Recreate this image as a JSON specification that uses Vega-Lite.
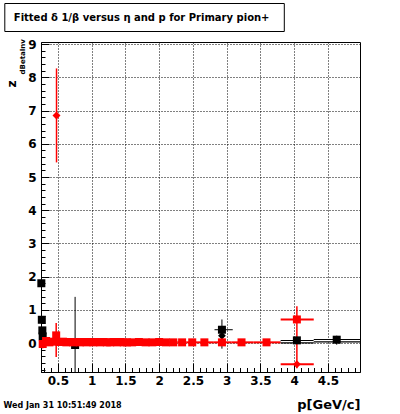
{
  "$schema": "https://vega.github.io/schema/vega-lite/v6.json",
  "width": 319,
  "height": 330,
  "autosize": "none",
  "padding": {"left": 41, "top": 42, "right": 40, "bottom": 42},
  "background": "white",
  "config": {"view": {"stroke": "black", "strokeWidth": 1}, "font": "DejaVu Sans"},
  "data": {"values": [
    {"g": "k1", "m": "sq", "p": 0.255, "z": 1.8, "lo": 1.8, "hi": 1.8, "pl": 0.255, "ph": 0.255},
    {"g": "k1", "m": "sq", "p": 0.262, "z": 0.7, "lo": 0.7, "hi": 0.7, "pl": 0.262, "ph": 0.262},
    {"g": "k1", "m": "sq", "p": 0.27, "z": 0.38, "lo": 0.38, "hi": 0.38, "pl": 0.27, "ph": 0.27},
    {"g": "k1", "m": "sq", "p": 0.275, "z": 0.2, "lo": 0.2, "hi": 0.2, "pl": 0.275, "ph": 0.275},
    {"g": "k1", "m": "sq", "p": 0.755, "z": -0.06, "lo": -1.6, "hi": 1.39, "pl": 0.73, "ph": 0.78},
    {"g": "k1", "m": "sq", "p": 2.93, "z": 0.4, "lo": 0.1, "hi": 0.71, "pl": 2.82, "ph": 3.09},
    {"g": "k1", "m": "dm", "p": 2.93, "z": 0.22, "lo": -0.17, "hi": 0.4, "pl": 2.93, "ph": 2.93},
    {"g": "r", "m": "sq", "p": 0.275, "z": -0.03, "lo": -0.16, "hi": 0.1, "pl": 0.25, "ph": 0.3},
    {"g": "r", "m": "sq", "p": 0.325, "z": 0.06, "lo": -0.04, "hi": 0.16, "pl": 0.3, "ph": 0.35},
    {"g": "r", "m": "sq", "p": 0.375, "z": 0.02, "lo": -0.06, "hi": 0.1, "pl": 0.35, "ph": 0.4},
    {"g": "r", "m": "sq", "p": 0.425, "z": 0.04, "lo": -0.03, "hi": 0.11, "pl": 0.4, "ph": 0.45},
    {"g": "r", "m": "sq", "p": 0.475, "z": 0.23, "lo": -0.42, "hi": 0.6, "pl": 0.45, "ph": 0.5},
    {"g": "r", "m": "sq", "p": 0.525, "z": 0.03, "lo": -0.03, "hi": 0.09, "pl": 0.5, "ph": 0.55},
    {"g": "r", "m": "sq", "p": 0.575, "z": 0.04, "lo": -0.02, "hi": 0.1, "pl": 0.55, "ph": 0.6},
    {"g": "r", "m": "sq", "p": 0.625, "z": 0.02, "lo": -0.03, "hi": 0.07, "pl": 0.6, "ph": 0.65},
    {"g": "r", "m": "sq", "p": 0.675, "z": 0.03, "lo": -0.02, "hi": 0.08, "pl": 0.65, "ph": 0.7},
    {"g": "r", "m": "sq", "p": 0.725, "z": 0.02, "lo": -0.03, "hi": 0.07, "pl": 0.7, "ph": 0.75},
    {"g": "r", "m": "sq", "p": 0.775, "z": 0.03, "lo": -0.02, "hi": 0.08, "pl": 0.75, "ph": 0.8},
    {"g": "r", "m": "sq", "p": 0.825, "z": 0.02, "lo": -0.03, "hi": 0.07, "pl": 0.8, "ph": 0.85},
    {"g": "r", "m": "sq", "p": 0.875, "z": 0.03, "lo": -0.02, "hi": 0.08, "pl": 0.85, "ph": 0.9},
    {"g": "r", "m": "sq", "p": 0.925, "z": 0.02, "lo": -0.03, "hi": 0.07, "pl": 0.9, "ph": 0.95},
    {"g": "r", "m": "sq", "p": 0.975, "z": 0.03, "lo": -0.02, "hi": 0.08, "pl": 0.95, "ph": 1.0},
    {"g": "r", "m": "sq", "p": 1.025, "z": 0.02, "lo": -0.03, "hi": 0.07, "pl": 1.0, "ph": 1.05},
    {"g": "r", "m": "sq", "p": 1.075, "z": 0.03, "lo": -0.02, "hi": 0.08, "pl": 1.05, "ph": 1.1},
    {"g": "r", "m": "sq", "p": 1.125, "z": 0.02, "lo": -0.03, "hi": 0.07, "pl": 1.1, "ph": 1.15},
    {"g": "r", "m": "sq", "p": 1.175, "z": 0.03, "lo": -0.02, "hi": 0.08, "pl": 1.15, "ph": 1.2},
    {"g": "r", "m": "sq", "p": 1.225, "z": 0.02, "lo": -0.03, "hi": 0.07, "pl": 1.2, "ph": 1.25},
    {"g": "r", "m": "sq", "p": 1.275, "z": 0.02, "lo": -0.03, "hi": 0.07, "pl": 1.25, "ph": 1.3},
    {"g": "r", "m": "sq", "p": 1.325, "z": 0.03, "lo": -0.02, "hi": 0.08, "pl": 1.3, "ph": 1.35},
    {"g": "r", "m": "sq", "p": 1.375, "z": 0.02, "lo": -0.03, "hi": 0.07, "pl": 1.35, "ph": 1.4},
    {"g": "r", "m": "sq", "p": 1.425, "z": 0.03, "lo": -0.02, "hi": 0.08, "pl": 1.4, "ph": 1.45},
    {"g": "r", "m": "sq", "p": 1.475, "z": 0.02, "lo": -0.03, "hi": 0.07, "pl": 1.45, "ph": 1.5},
    {"g": "r", "m": "sq", "p": 1.525, "z": 0.02, "lo": -0.03, "hi": 0.07, "pl": 1.5, "ph": 1.55},
    {"g": "r", "m": "sq", "p": 1.6, "z": 0.02, "lo": -0.02, "hi": 0.06, "pl": 1.55, "ph": 1.65},
    {"g": "r", "m": "sq", "p": 1.7, "z": 0.03, "lo": -0.01, "hi": 0.07, "pl": 1.65, "ph": 1.75},
    {"g": "r", "m": "sq", "p": 1.8, "z": 0.02, "lo": -0.02, "hi": 0.06, "pl": 1.75, "ph": 1.85},
    {"g": "r", "m": "sq", "p": 1.9, "z": 0.02, "lo": -0.02, "hi": 0.06, "pl": 1.85, "ph": 1.95},
    {"g": "r", "m": "sq", "p": 2.0, "z": 0.03, "lo": -0.01, "hi": 0.07, "pl": 1.95, "ph": 2.05},
    {"g": "r", "m": "sq", "p": 2.1, "z": 0.02, "lo": -0.02, "hi": 0.06, "pl": 2.05, "ph": 2.15},
    {"g": "r", "m": "sq", "p": 2.21, "z": 0.02, "lo": -0.02, "hi": 0.06, "pl": 2.15, "ph": 2.275},
    {"g": "r", "m": "sq", "p": 2.34, "z": 0.02, "lo": -0.02, "hi": 0.06, "pl": 2.275, "ph": 2.41},
    {"g": "r", "m": "sq", "p": 2.49, "z": 0.02, "lo": -0.02, "hi": 0.06, "pl": 2.41, "ph": 2.575},
    {"g": "r", "m": "sq", "p": 2.67, "z": 0.02, "lo": -0.02, "hi": 0.06, "pl": 2.575, "ph": 2.8},
    {"g": "r", "m": "sq", "p": 2.93, "z": 0.02, "lo": -0.03, "hi": 0.07, "pl": 2.8, "ph": 3.07},
    {"g": "r", "m": "sq", "p": 3.22, "z": 0.02, "lo": -0.03, "hi": 0.07, "pl": 3.07, "ph": 3.4},
    {"g": "r", "m": "sq", "p": 3.59, "z": 0.02, "lo": -0.03, "hi": 0.07, "pl": 3.4, "ph": 3.8},
    {"g": "r", "m": "sq", "p": 4.04, "z": 0.71, "lo": -0.3, "hi": 1.11, "pl": 3.8, "ph": 4.29},
    {"g": "r", "m": "dm", "p": 0.48, "z": 6.85, "lo": 5.44, "hi": 8.27, "pl": 0.48, "ph": 0.48},
    {"g": "r", "m": "dm", "p": 4.04, "z": -0.64, "lo": -0.76, "hi": -0.3, "pl": 3.8, "ph": 4.29},
    {"g": "k2", "m": "box", "p": 4.04, "z": 0.04, "lo": 0.04, "hi": 0.04, "pl": 3.8, "ph": 4.29},
    {"g": "k2", "m": "box", "p": 4.63, "z": 0.07, "lo": 0.07, "hi": 0.07, "pl": 4.29, "ph": 4.975},
    {"g": "k2", "m": "sq", "p": 4.04, "z": 0.08, "lo": 0.08, "hi": 0.08, "pl": 4.04, "ph": 4.04},
    {"g": "k2", "m": "sq", "p": 4.63, "z": 0.1, "lo": -0.05, "hi": 0.22, "pl": 4.63, "ph": 4.63}
  ]},
  "layer": [
    {
      "transform": [{"filter": "datum.g == 'k1'"}],
      "mark": {"type": "rule", "color": "black", "strokeWidth": 1, "clip": true},
      "encoding": {
        "x": {"field": "pl", "type": "quantitative", "scale": {"domain": [0.25, 4.975], "nice": false, "zero": false},
          "axis": {
            "values": [0.3,0.4,0.5,0.6,0.7,0.8,0.9,1.0,1.1,1.2,1.3,1.4,1.5,1.6,1.7,1.8,1.9,2.0,2.1,2.2,2.3,2.4,2.5,2.6,2.7,2.8,2.9,3.0,3.1,3.2,3.3,3.4,3.5,3.6,3.7,3.8,3.9,4.0,4.1,4.2,4.3,4.4,4.5,4.6,4.7,4.8,4.9],
            "format": "~g",
            "labelExpr": "abs(datum.value*2-round(datum.value*2))<0.001 ? datum.label : ''",
            "labelFont": "DejaVu Sans", "labelFontWeight": "bold", "labelFontSize": 12, "labelColor": "black",
            "labelPadding": 12, "labelOverlap": false, "labelFlush": false, "labelBaseline": "top",
            "ticks": true, "tickColor": "black", "tickWidth": 1,
            "tickSize": {"condition": {"test": "abs(datum.value*2-round(datum.value*2))<0.001", "value": -9}, "value": -4.5},
            "grid": true, "gridColor": "black", "gridDash": [1, 2], "gridWidth": 1,
            "gridOpacity": {"condition": {"test": "abs(datum.value*2-round(datum.value*2))<0.001", "value": 1}, "value": 0},
            "domain": true, "domainColor": "black", "domainWidth": 1,
            "title": "p[GeV/c]", "titleFont": "DejaVu Sans", "titleFontWeight": "bold", "titleFontSize": 13, "titleColor": "black",
            "titleX": 319, "titleY": 36, "titleAlign": "right", "titleAnchor": "end", "titleBaseline": "alphabetic"
          }},
        "x2": {"field": "ph"},
        "y": {"field": "z", "type": "quantitative", "scale": {"domain": [-0.873, 9.066], "nice": false, "zero": false},
          "axis": {
            "values": [-0.8,-0.6,-0.4,-0.2,0,0.2,0.4,0.6,0.8,1,1.2,1.4,1.6,1.8,2,2.2,2.4,2.6,2.8,3,3.2,3.4,3.6,3.8,4,4.2,4.4,4.6,4.8,5,5.2,5.4,5.6,5.8,6,6.2,6.4,6.6,6.8,7,7.2,7.4,7.6,7.8,8,8.2,8.4,8.6,8.8,9],
            "format": "~g",
            "labelExpr": "abs(datum.value-round(datum.value))<0.001 ? datum.label : ''",
            "labelFont": "DejaVu Sans", "labelFontWeight": "bold", "labelFontSize": 12, "labelColor": "black",
            "labelPadding": 13, "labelOverlap": false, "labelFlush": false,
            "ticks": true, "tickColor": "black", "tickWidth": 1,
            "tickSize": {"condition": {"test": "abs(datum.value-round(datum.value))<0.001", "value": -8}, "value": -4},
            "grid": true, "gridColor": "black", "gridDash": [1, 2], "gridWidth": 1,
            "gridOpacity": {"condition": {"test": "abs(datum.value-round(datum.value))<0.001", "value": 1}, "value": 0},
            "domain": true, "domainColor": "black", "domainWidth": 1,
            "title": "z", "titleFont": "DejaVu Sans", "titleFontWeight": "bold", "titleFontSize": 12, "titleColor": "black",
            "titleX": -29.5, "titleY": 41.5, "titleAngle": 270, "titleAlign": "center", "titleBaseline": "middle"
          }}
      }
    },
    {
      "transform": [{"filter": "datum.g == 'k1'"}],
      "mark": {"type": "rule", "color": "black", "strokeWidth": 1, "clip": true},
      "encoding": {
        "x": {"field": "p", "type": "quantitative", "scale": {"domain": [0.25, 4.975], "nice": false, "zero": false}, "axis": null},
        "y": {"field": "lo", "type": "quantitative", "scale": {"domain": [-0.873, 9.066], "nice": false, "zero": false}, "axis": null},
        "y2": {"field": "hi"}
      }
    },
    {
      "transform": [{"filter": "datum.g == 'k1' && datum.m == 'sq'"}],
      "mark": {"type": "point", "shape": "square", "filled": true, "size": 64, "color": "black", "opacity": 1},
      "encoding": {
        "x": {"field": "p", "type": "quantitative", "scale": {"domain": [0.25, 4.975], "nice": false, "zero": false}, "axis": null},
        "y": {"field": "z", "type": "quantitative", "scale": {"domain": [-0.873, 9.066], "nice": false, "zero": false}, "axis": null}
      }
    },
    {
      "transform": [{"filter": "datum.g == 'k1' && datum.m == 'dm'"}],
      "mark": {"type": "point", "shape": "diamond", "filled": true, "size": 60, "color": "black", "opacity": 1},
      "encoding": {
        "x": {"field": "p", "type": "quantitative", "scale": {"domain": [0.25, 4.975], "nice": false, "zero": false}, "axis": null},
        "y": {"field": "z", "type": "quantitative", "scale": {"domain": [-0.873, 9.066], "nice": false, "zero": false}, "axis": null}
      }
    },
    {
      "transform": [{"filter": "datum.g == 'r'"}],
      "mark": {"type": "rule", "color": "#ff0000", "strokeWidth": 2, "clip": true},
      "encoding": {
        "x": {"field": "pl", "type": "quantitative", "scale": {"domain": [0.25, 4.975], "nice": false, "zero": false}, "axis": null},
        "x2": {"field": "ph"},
        "y": {"field": "z", "type": "quantitative", "scale": {"domain": [-0.873, 9.066], "nice": false, "zero": false}, "axis": null}
      }
    },
    {
      "transform": [{"filter": "datum.g == 'r'"}],
      "mark": {"type": "rule", "color": "#ff0000", "strokeWidth": 1.5, "clip": true},
      "encoding": {
        "x": {"field": "p", "type": "quantitative", "scale": {"domain": [0.25, 4.975], "nice": false, "zero": false}, "axis": null},
        "y": {"field": "lo", "type": "quantitative", "scale": {"domain": [-0.873, 9.066], "nice": false, "zero": false}, "axis": null},
        "y2": {"field": "hi"}
      }
    },
    {
      "transform": [{"filter": "datum.g == 'r' && datum.m == 'sq'"}],
      "mark": {"type": "point", "shape": "square", "filled": true, "size": 64, "color": "#ff0000", "opacity": 1},
      "encoding": {
        "x": {"field": "p", "type": "quantitative", "scale": {"domain": [0.25, 4.975], "nice": false, "zero": false}, "axis": null},
        "y": {"field": "z", "type": "quantitative", "scale": {"domain": [-0.873, 9.066], "nice": false, "zero": false}, "axis": null}
      }
    },
    {
      "transform": [{"filter": "datum.g == 'r' && datum.m == 'dm'"}],
      "mark": {"type": "point", "shape": "diamond", "filled": true, "size": 64, "color": "#ff0000", "opacity": 1},
      "encoding": {
        "x": {"field": "p", "type": "quantitative", "scale": {"domain": [0.25, 4.975], "nice": false, "zero": false}, "axis": null},
        "y": {"field": "z", "type": "quantitative", "scale": {"domain": [-0.873, 9.066], "nice": false, "zero": false}, "axis": null}
      }
    },
    {
      "transform": [{"filter": "datum.g == 'k2' && datum.m == 'box'"}],
      "mark": {"type": "rule", "color": "black", "strokeWidth": 3.5, "clip": true},
      "encoding": {
        "x": {"field": "pl", "type": "quantitative", "scale": {"domain": [0.25, 4.975], "nice": false, "zero": false}, "axis": null},
        "x2": {"field": "ph"},
        "y": {"field": "z", "type": "quantitative", "scale": {"domain": [-0.873, 9.066], "nice": false, "zero": false}, "axis": null}
      }
    },
    {
      "transform": [{"filter": "datum.g == 'k2' && datum.m == 'box'"}],
      "mark": {"type": "rule", "color": "white", "strokeWidth": 1.2, "clip": true},
      "encoding": {
        "x": {"field": "pl", "type": "quantitative", "scale": {"domain": [0.25, 4.975], "nice": false, "zero": false}, "axis": null},
        "x2": {"field": "ph"},
        "y": {"field": "z", "type": "quantitative", "scale": {"domain": [-0.873, 9.066], "nice": false, "zero": false}, "axis": null}
      }
    },
    {
      "transform": [{"filter": "datum.g == 'k2' && datum.m == 'sq'"}],
      "mark": {"type": "rule", "color": "black", "strokeWidth": 1, "clip": true},
      "encoding": {
        "x": {"field": "p", "type": "quantitative", "scale": {"domain": [0.25, 4.975], "nice": false, "zero": false}, "axis": null},
        "y": {"field": "lo", "type": "quantitative", "scale": {"domain": [-0.873, 9.066], "nice": false, "zero": false}, "axis": null},
        "y2": {"field": "hi"}
      }
    },
    {
      "transform": [{"filter": "datum.g == 'k2' && datum.m == 'sq'"}],
      "mark": {"type": "point", "shape": "square", "filled": true, "size": 64, "color": "black", "opacity": 1},
      "encoding": {
        "x": {"field": "p", "type": "quantitative", "scale": {"domain": [0.25, 4.975], "nice": false, "zero": false}, "axis": null},
        "y": {"field": "z", "type": "quantitative", "scale": {"domain": [-0.873, 9.066], "nice": false, "zero": false}, "axis": null}
      }
    },
    {
      "mark": {"type": "point", "opacity": 0},
      "encoding": {
        "x": {"field": "p", "type": "quantitative", "scale": {"domain": [0.25, 4.975], "nice": false, "zero": false},
          "axis": {"orient": "top", "domain": false, "ticks": false, "labels": false, "grid": false,
            "title": "Wed Jan 31 10:51:49 2018", "titleX": -38, "titleY": 365, "titleAlign": "left", "titleAnchor": "start", "titleBaseline": "alphabetic",
            "titleFont": "DejaVu Sans", "titleFontWeight": "bold", "titleFontSize": 8, "titleColor": "black"}},
        "y": {"field": "z", "type": "quantitative", "scale": {"domain": [-0.873, 9.066], "nice": false, "zero": false},
          "axis": {"orient": "right", "domain": false, "ticks": false, "labels": false, "grid": false,
            "title": "dBetaInv", "titleX": -337.5, "titleY": 14.3, "titleAngle": 270, "titleAlign": "center", "titleBaseline": "middle",
            "titleFont": "DejaVu Sans", "titleFontWeight": "bold", "titleFontSize": 7, "titleColor": "black"}}
      }
    },
    {
      "mark": {"type": "point", "opacity": 0},
      "encoding": {
        "x": {"field": "p", "type": "quantitative", "scale": {"domain": [0, 1], "range": [-36.7, 242.8], "nice": false, "zero": false},
          "axis": {"orient": "top", "offset": 11, "domain": true, "domainColor": "black", "domainWidth": 1, "ticks": false, "labels": false, "grid": false,
            "title": "Fitted δ 1/β versus η and p for Primary pion+", "titleX": -27.7, "titleY": -10.5, "titleAlign": "left", "titleAnchor": "start", "titleBaseline": "alphabetic",
            "titleFont": "DejaVu Sans", "titleFontWeight": "bold", "titleFontSize": 10, "titleColor": "black"}},
        "y": {"field": "z", "type": "quantitative", "scale": {"domain": [0, 1], "range": [-11, -39], "nice": false, "zero": false},
          "axis": {"orient": "left", "offset": 36.7, "domain": true, "domainColor": "black", "domainWidth": 1, "ticks": false, "labels": false, "grid": false, "title": null}}
      }
    },
    {
      "mark": {"type": "point", "opacity": 0},
      "encoding": {
        "x": {"field": "p", "type": "quantitative", "scale": {"domain": [0, 1], "range": [-36.7, 242.8], "nice": false, "zero": false},
          "axis": {"orient": "top", "offset": 39, "domain": true, "domainColor": "black", "domainWidth": 1, "ticks": false, "labels": false, "grid": false, "title": null}},
        "y": {"field": "z", "type": "quantitative", "scale": {"domain": [0, 1], "range": [-11, -39], "nice": false, "zero": false},
          "axis": {"orient": "right", "offset": -76.2, "domain": true, "domainColor": "black", "domainWidth": 1, "ticks": false, "labels": false, "grid": false, "title": null}}
      }
    }
  ],
  "resolve": {"scale": {"x": "independent", "y": "independent"}}
}
